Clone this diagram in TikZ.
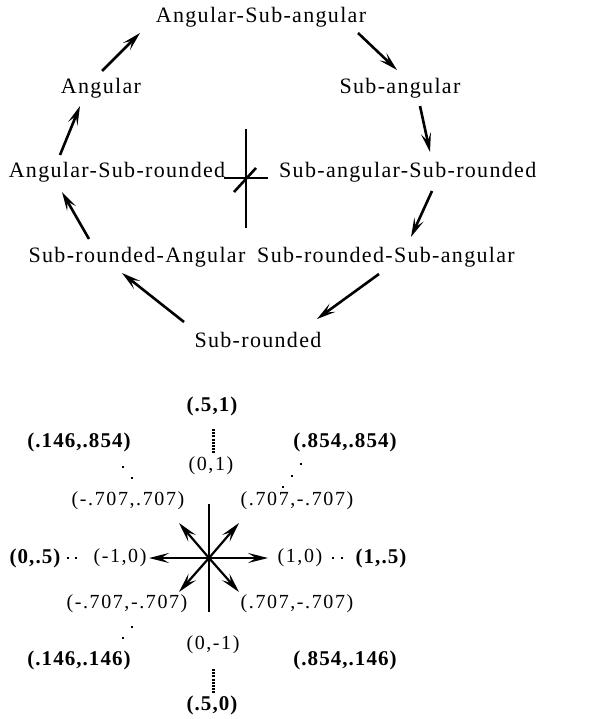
\documentclass[tikz,border=0pt]{standalone}
\usepackage{fontspec}
\setmainfont{Liberation Serif}
\usetikzlibrary{arrows.meta}
\begin{document}
\begin{tikzpicture}[x=1pt,y=-1pt,
  lbl/.style={font=\fontsize{22}{26}\selectfont\addfontfeature{LetterSpace=6}, inner sep=0pt, anchor=center},
  coord/.style={font=\fontsize{20}{24}\selectfont\addfontfeature{LetterSpace=8}, inner sep=0pt, anchor=center},
  bcoord/.style={font=\fontsize{21}{24}\selectfont\bfseries\addfontfeature{LetterSpace=5}, inner sep=0pt, anchor=center},
  flow/.style={line width=2.6pt, -{Stealth[length=19pt,width=10pt,inset=8pt]}},
  vec/.style={line width=2.2pt, -{Stealth[length=20pt,width=10pt,inset=8pt]}},
  axis/.style={line width=2.2pt},
  dotline/.style={line width=3pt, dash pattern=on 2pt off 1.2pt},
  dot/.style={fill=black, minimum size=2.8pt, inner sep=0pt, draw=none, rectangle}]
\useasboundingbox (0,0) rectangle (608,719);
\clip (0,0) rectangle (608,719);
\fill[white] (0,0) rectangle (608,719);

% ---------- top: cycle ----------
\node[lbl] (asa) at (261,17) {Angular-Sub-angular};
\node[lbl] (ang) at (101,88) {Angular};
\node[lbl] (sa)  at (400,88) {Sub-angular};
\node[lbl] (asr) at (117,172) {Angular-Sub-rounded};
\node[lbl, anchor=west] (sasr) at (279,172) {Sub-angular-Sub-rounded};
\node[lbl] (sra) at (137,257) {Sub-rounded-Angular};
\node[lbl] (srsa) at (386,257) {Sub-rounded-Sub-angular};
\node[lbl] (sr)  at (258,340) {Sub-rounded};

\coordinate (a1s) at (102,71);  \coordinate (a1e) at (140,33);
\coordinate (a2s) at (358,33);  \coordinate (a2e) at (397,70);
\coordinate (a3s) at (420,106); \coordinate (a3e) at (430,152);
\coordinate (a4s) at (432,191); \coordinate (a4e) at (411,237);
\coordinate (a5s) at (379,274); \coordinate (a5e) at (317,319);
\coordinate (a6s) at (184,322); \coordinate (a6e) at (122,273);
\coordinate (a7s) at (89,239);  \coordinate (a7e) at (62,192);
\coordinate (a8s) at (60,155);  \coordinate (a8e) at (80,106);
\draw[flow] (a1s) -- (a1e);
\draw[flow] (a2s) -- (a2e);
\draw[flow] (a3s) -- (a3e);
\draw[flow] (a4s) -- (a4e);
\draw[flow] (a5s) -- (a5e);
\draw[flow] (a6s) -- (a6e);
\draw[flow] (a7s) -- (a7e);
\draw[flow] (a8s) -- (a8e);

% cross in the middle
\coordinate (cvt) at (246,129); \coordinate (cvb) at (246,228);
\coordinate (chl) at (224,178); \coordinate (chr) at (268,178);
\coordinate (cdl) at (234,192); \coordinate (cdr) at (256,168);
\draw[axis] (cvt) -- (cvb);
\draw[axis] (chl) -- (chr);
\draw[line width=2.6pt] (cdl) -- (cdr);

% ---------- bottom: compass ----------
\coordinate (o) at (209,558);
\coordinate (vt) at (209,504); \coordinate (vb) at (209,612);
\draw[axis] (vt) -- (vb);
\coordinate (pr) at (268,558); \coordinate (pl) at (149,558);
\coordinate (pur) at (239,523); \coordinate (pul) at (179,523);
\coordinate (pdr) at (239,592); \coordinate (pdl) at (179,592);
\draw[vec] (o) -- (pr);
\draw[vec] (o) -- (pl);
\draw[vec] (o) -- (pur);
\draw[vec] (o) -- (pul);
\draw[vec] (o) -- (pdr);
\draw[vec] (o) -- (pdl);

\node[bcoord] (b51) at (212,406) {(.5,1)};
\node[bcoord] (b146854) at (79,442) {(.146,.854)};
\node[bcoord] (b854854) at (345,442) {(.854,.854)};
\node[bcoord] (b05) at (35,558) {(0,.5)};
\node[bcoord] (b15) at (381,558) {(1,.5)};
\node[bcoord] (b146146) at (79,660) {(.146,.146)};
\node[bcoord] (b854146) at (345,660) {(.854,.146)};
\node[bcoord] (b50) at (212,705) {(.5,0)};

\node[coord] (c01) at (211,466) {(0,1)};
\node[coord] (cul) at (128,501) {(-.707,.707)};
\node[coord] (cur) at (297,501) {(.707,-.707)};
\node[coord] (cm10) at (120,558) {(-1,0)};
\node[coord] (c10) at (300,558) {(1,0)};
\node[coord] (cdlb) at (127,604) {(-.707,-.707)};
\node[coord] (cdrb) at (297,604) {(.707,-.707)};
\node[coord] (c0m1) at (213,645) {(0,-1)};

% dotted links
\coordinate (dt1) at (213,429); \coordinate (dt2) at (213,453);
\coordinate (db1) at (213,669); \coordinate (db2) at (213,693);
\draw[dotline] (dt1) -- (dt2);
\draw[dotline] (db1) -- (db2);
\node[dot] (d1) at (123,467) {};
\node[dot] (d2) at (132,478) {};
\node[dot] (d3) at (301,464) {};
\node[dot] (d4) at (292,476) {};
\node[dot] (d5) at (283,487) {};
\node[dot] (d6) at (132,627) {};
\node[dot] (d7) at (123,638) {};
\node[dot] (d8) at (68,558) {};
\node[dot] (d9) at (76,558) {};
\node[dot] (d10) at (333,558) {};
\node[dot] (d11) at (342,558) {};
\end{tikzpicture}
\end{document}
